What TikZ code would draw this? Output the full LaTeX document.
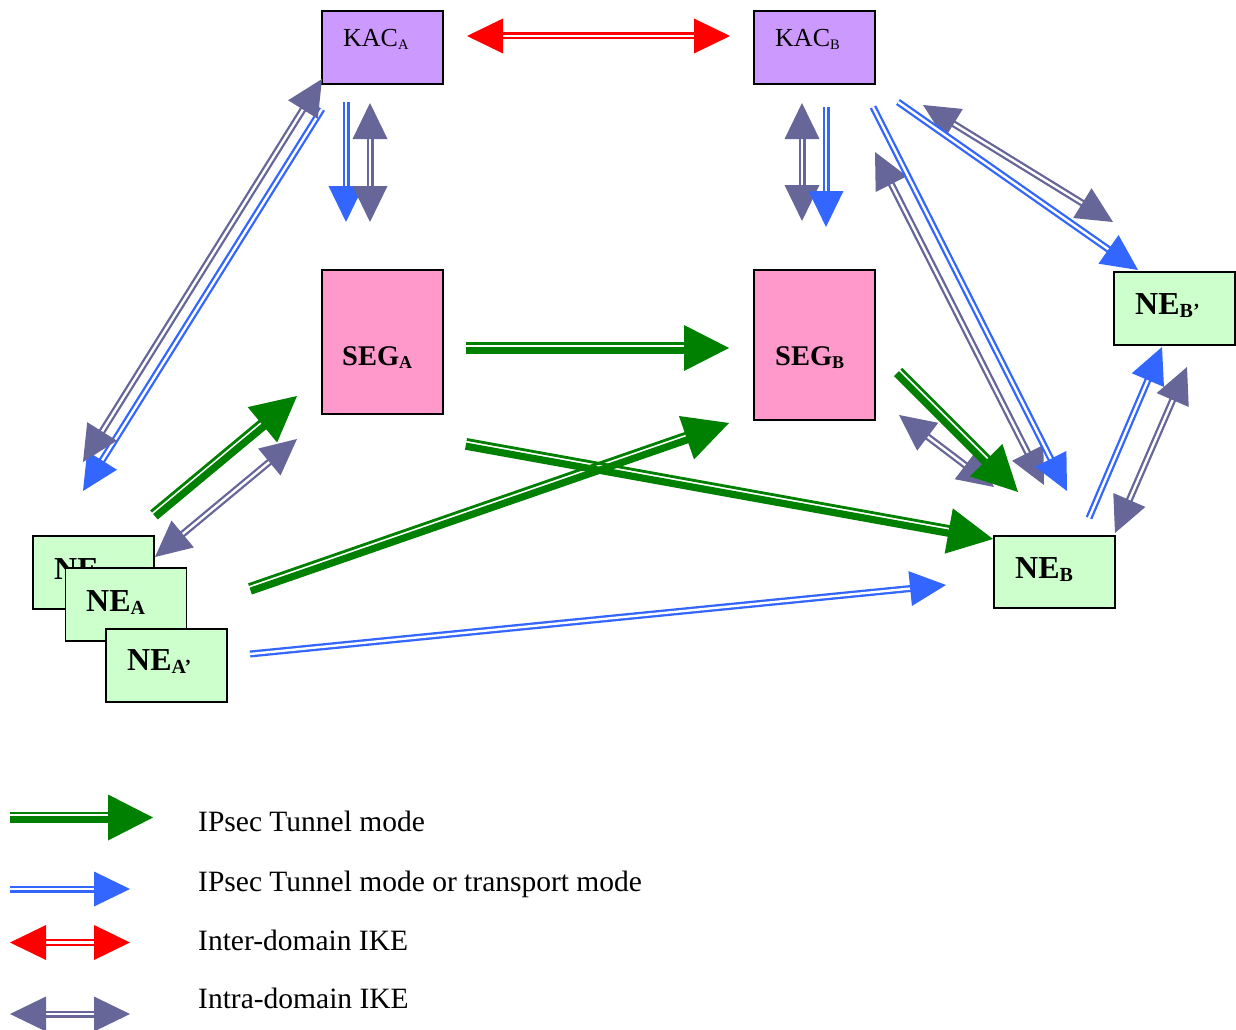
\documentclass[tikz,border=0pt]{standalone}
\usepackage{fontspec}
\setmainfont{Liberation Serif}
\usetikzlibrary{calc}
\definecolor{kacfill}{HTML}{CC99FF}
\definecolor{segfill}{HTML}{FF99CC}
\definecolor{nefill}{HTML}{CCFFCC}
\definecolor{ipblue}{HTML}{3366FF}
\definecolor{ikepur}{HTML}{666699}
\definecolor{tungreen}{HTML}{008000}
\definecolor{ikered}{HTML}{FF0000}
\newcommand\subtxt[2]{\raisebox{-3pt}{\fontsize{#1}{#1}\selectfont #2}}
\newcommand\ArrHead[5]{\fill[#3] (#1) -- ($(#1)!#4!(#2)!#5!90:(#1)$) -- ($(#1)!#4!(#2)!#5!-90:(#1)$) -- cycle;}
\newcommand\OneWayArr[3]{%
  \draw[dblshaft=#3] (#1) -- ($(#2)!34pt!(#1)$);
  \ArrHead{#2}{#1}{#3}{36pt}{17.5pt}}
\newcommand\TwoWayArr[3]{%
  \draw[dblshaft=#3] ($(#1)!34pt!(#2)$) -- ($(#2)!34pt!(#1)$);
  \ArrHead{#1}{#2}{#3}{36pt}{17.5pt}%
  \ArrHead{#2}{#1}{#3}{36pt}{17.5pt}}
\newcommand\GreenArr[2]{%
  \coordinate (gE) at ($(#2)!43pt!(#1)$);
  \draw[tungreen, line width=2.8pt] ($(#1)!4.6pt!90:(#2)$) -- ($(gE)!4.6pt!-90:(#1)$);
  \draw[tungreen, line width=7.2pt] ($(#1)!2.2pt!-90:(#2)$) -- ($(gE)!2.2pt!90:(#1)$);
  \ArrHead{#2}{#1}{tungreen}{45pt}{23pt}}
\tikzset{
  dblshaft/.style={draw=#1, line width=2.3pt, double=white, double distance=2.4pt},
  box/.style={draw=black, line width=1.6pt, minimum width=121pt, inner sep=0pt, outer sep=0pt},
  kacbox/.style={box, fill=kacfill, minimum height=73pt},
  segbox/.style={box, fill=segfill},
  nebox/.style={box, fill=nefill, minimum height=72pt},
  regtxt/.style={inner sep=0pt, anchor=base west, font=\fontsize{26}{26}\selectfont},
  segtxt/.style={inner sep=0pt, anchor=base west, font=\fontsize{28.5}{28.5}\selectfont\bfseries},
  netxt/.style={inner sep=0pt, anchor=base west, font=\fontsize{32}{32}\selectfont\bfseries},
  legtxt/.style={inner sep=0pt, anchor=base west, font=\fontsize{29.5}{29.5}\selectfont},
}
\begin{document}
\begin{tikzpicture}[x=1pt,y=-1pt]
\useasboundingbox[fill=white] (0,0) rectangle (1236,1030);
% boxes
\node[kacbox] (kacA) at (382.5,47.5) {};
\node[kacbox] (kacB) at (814.5,47.5) {};
\node[segbox, minimum height=144pt] (segA) at (382.5,342) {};
\node[segbox, minimum height=150pt] (segB) at (814.5,345) {};
\node[nebox, minimum height=73pt] (neBp) at (1174.5,308.5) {};
\node[nebox] (neB) at (1054.5,572) {};
\node[kacbox, fill=nefill] (neA1) at (93.5,572.5) {};
\node[netxt] (neA1t) at (54,579) {NE\subtxt{20}{A}};
\node[kacbox, fill=nefill] (neA2) at (126,604.5) {};
\node[kacbox, fill=nefill] (neA3) at (166.5,665.5) {};
% texts
\node[regtxt] (kacAt) at (343,47) {KAC\subtxt{14.5}{A}};
\node[regtxt] (kacBt) at (775,47) {KAC\subtxt{14.5}{B}};
\node[segtxt] (segAt) at (342,365) {SEG\subtxt{18}{A}};
\node[segtxt] (segBt) at (775,365) {SEG\subtxt{18}{B}};
\node[netxt] (neBpt) at (1135,314) {NE\subtxt{20}{B’}};
\node[netxt] (neBt) at (1015,578) {NE\subtxt{20}{B}};
\node[netxt] (neA2t) at (86,611) {NE\subtxt{20}{A}};
\node[netxt] (neA3t) at (127,670) {NE\subtxt{20}{A’}};
% connector end points
\coordinate (r1) at (467,36); \coordinate (r2) at (730,36);
\coordinate (p1a) at (322,79); \coordinate (p1b) at (83,462);
\coordinate (b1a) at (322,109); \coordinate (b1b) at (83,491);
\coordinate (b2a) at (346,102); \coordinate (b2b) at (346,222);
\coordinate (p2a) at (370,103); \coordinate (p2b) at (370,222);
\coordinate (p3a) at (802,103); \coordinate (p3b) at (802,221);
\coordinate (b3a) at (826,107); \coordinate (b3b) at (826,227);
\coordinate (g1a) at (466,348); \coordinate (g1b) at (729,348);
\coordinate (g2a) at (466,444); \coordinate (g2b) at (993,539);
\coordinate (g3a) at (154,515); \coordinate (g3b) at (297,396);
\coordinate (p4a) at (297,439); \coordinate (p4b) at (155,557);
\coordinate (g4a) at (250,589); \coordinate (g4b) at (729,423);
\coordinate (b4a) at (250,654); \coordinate (b4b) at (946,585);
\coordinate (g5a) at (898,372); \coordinate (g5b) at (1018,492);
\coordinate (p5a) at (899,415); \coordinate (p5b) at (994,487);
\coordinate (p6a) at (875,152); \coordinate (p6b) at (1044,485);
\coordinate (b6a) at (873,107); \coordinate (b6b) at (1067,491);
\coordinate (b7a) at (898,102); \coordinate (b7b) at (1138,270);
\coordinate (p7a) at (923,105); \coordinate (p7b) at (1113,222);
\coordinate (b8a) at (1089,518); \coordinate (b8b) at (1162,347);
\coordinate (p8a) at (1115,533); \coordinate (p8b) at (1187,367);
% connectors
\TwoWayArr{r1}{r2}{ikered}
\OneWayArr{b1a}{b1b}{ipblue}
\TwoWayArr{p1a}{p1b}{ikepur}
\OneWayArr{b2a}{b2b}{ipblue}
\TwoWayArr{p2a}{p2b}{ikepur}
\TwoWayArr{p3a}{p3b}{ikepur}
\OneWayArr{b3a}{b3b}{ipblue}
\GreenArr{g1a}{g1b}
\GreenArr{g2a}{g2b}
\GreenArr{g3a}{g3b}
\TwoWayArr{p4a}{p4b}{ikepur}
\GreenArr{g4a}{g4b}
\OneWayArr{b4a}{b4b}{ipblue}
\TwoWayArr{p5a}{p5b}{ikepur}
\GreenArr{g5a}{g5b}
\TwoWayArr{p6a}{p6b}{ikepur}
\OneWayArr{b6a}{b6b}{ipblue}
\TwoWayArr{p7a}{p7b}{ikepur}
\OneWayArr{b7a}{b7b}{ipblue}
\OneWayArr{b8a}{b8b}{ipblue}
\TwoWayArr{p8a}{p8b}{ikepur}
% legend
\coordinate (lg1) at (10,817.5); \coordinate (lg2) at (153,817.5);
\coordinate (lb1) at (10,889); \coordinate (lb2) at (130,889);
\coordinate (lr1) at (10,942.5); \coordinate (lr2) at (130,942.5);
\coordinate (lp1) at (10,1014); \coordinate (lp2) at (130,1014);
\GreenArr{lg1}{lg2}
\OneWayArr{lb1}{lb2}{ipblue}
\TwoWayArr{lr1}{lr2}{ikered}
\TwoWayArr{lp1}{lp2}{ikepur}
\node[legtxt] (leg1) at (198,831) {IPsec Tunnel mode};
\node[legtxt] (leg2) at (198,891) {IPsec Tunnel mode or transport mode};
\node[legtxt] (leg3) at (198,950) {Inter-domain IKE};
\node[legtxt] (leg4) at (198,1008) {Intra-domain IKE};
\end{tikzpicture}
\end{document}
